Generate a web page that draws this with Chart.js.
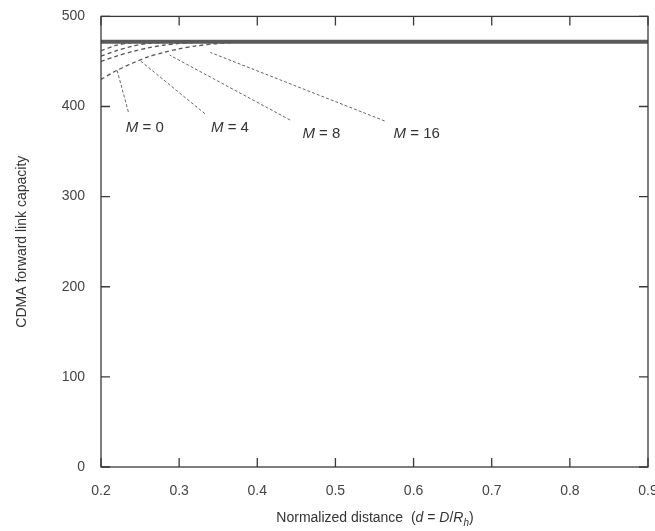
<!DOCTYPE html>
<html>
<head>
<meta charset="utf-8">
<script src="https://cdn.jsdelivr.net/npm/chart.js@4/dist/chart.umd.min.js"></script>
<style>
  html, body { margin: 0; padding: 0; background: #fff; }
  #wrap { width: 655px; height: 531px; }
</style>
</head>
<body>
<div id="wrap"><canvas id="capChart" width="655" height="531"></canvas></div>
<script>
/* ====== DATA ====== */
const distances = [0.2, 0.22, 0.24, 0.26, 0.28, 0.30, 0.32, 0.35, 0.4, 0.5, 0.6, 0.7, 0.8, 0.9];
const capLimit  = [472, 472, 472, 472, 472, 472, 472, 472, 472, 472, 472, 472, 472, 472];
const capM0     = [462, 468, 471, 472, 472, 472, 472, 472, 472, 472, 472, 472, 472, 472];
const capM4     = [456, 462, 467, 470, 471, 472, 472, 472, 472, 472, 472, 472, 472, 472];
const capM8     = [450, 456, 461, 465, 468, 470, 471, 472, 472, 472, 472, 472, 472, 472];
const capM16    = [430, 440, 448, 455, 460, 464, 467, 470, 472, 472, 472, 472, 472, 472];

const curveNames = ['M = 0', 'M = 4', 'M = 8', 'M = 16'];
// label anchor (data coords) and pointer ends
const labelD   = [0.256, 0.365, 0.482, 0.604];
const labelV   = [376, 376, 370, 370];
const ptrFromD = [0.235, 0.333, 0.442, 0.563];
const ptrFromV = [394, 392, 385, 384];
const ptrToD   = [0.220, 0.250, 0.288, 0.340];
const ptrToV   = [442, 451, 457, 460];

const xTicks = [0.2, 0.3, 0.4, 0.5, 0.6, 0.7, 0.8, 0.9];
const yTicks = [0, 100, 200, 300, 400, 500];

const INK = '#3a3a3a';
const FONT = 'Liberation Sans, Arial, sans-serif';

function toPts(ys) { return distances.map((d, i) => ({ x: d, y: ys[i] })); }

const curveSets = [capM0, capM4, capM8, capM16].map(ys => ({
  data: toPts(ys),
  borderColor: '#555',
  borderWidth: 1.3,
  borderDash: [4, 3],
  pointRadius: 0,
  tension: 0.3,
  fill: false
}));

const pointerSets = curveNames.map((n, i) => ({
  data: [{ x: ptrFromD[i], y: ptrFromV[i] }, { x: ptrToD[i], y: ptrToV[i] }],
  borderColor: '#666',
  borderWidth: 1,
  borderDash: [3, 2],
  pointRadius: 0,
  fill: false
}));

/* ====== PLUGINS ====== */
// frame around the plot + inward ticks on all four sides
const framePlugin = {
  id: 'frame',
  afterDraw(chart) {
    const { ctx, chartArea: a, scales: { x, y } } = chart;
    ctx.save();
    ctx.strokeStyle = INK;
    ctx.lineWidth = 1.3;
    ctx.strokeRect(a.left, a.top, a.right - a.left, a.bottom - a.top);
    ctx.beginPath();
    xTicks.forEach(t => {
      const px = x.getPixelForValue(t);
      ctx.moveTo(px, a.bottom); ctx.lineTo(px, a.bottom - 9);
      ctx.moveTo(px, a.top); ctx.lineTo(px, a.top + 9);
    });
    yTicks.forEach(t => {
      const py = y.getPixelForValue(t);
      ctx.moveTo(a.left, py); ctx.lineTo(a.left + 9, py);
      ctx.moveTo(a.right, py); ctx.lineTo(a.right - 9, py);
    });
    ctx.stroke();
    ctx.restore();
  }
};

// curve names
const labelPlugin = {
  id: 'curveLabels',
  afterDatasetsDraw(chart) {
    const { ctx, scales: { x, y } } = chart;
    ctx.save();
    ctx.fillStyle = '#333';
    ctx.textBaseline = 'middle';
    curveNames.forEach((n, i) => {
      const px = x.getPixelForValue(labelD[i]);
      const py = y.getPixelForValue(labelV[i]);
      const rest = n.slice(1);
      ctx.font = 'italic 15px ' + FONT;
      const wM = ctx.measureText('M').width;
      ctx.font = '15px ' + FONT;
      const wR = ctx.measureText(rest).width;
      const x0 = px - (wM + wR) / 2;
      ctx.textAlign = 'left';
      ctx.font = 'italic 15px ' + FONT;
      ctx.fillText('M', x0, py);
      ctx.font = '15px ' + FONT;
      ctx.fillText(rest, x0 + wM, py);
    });
    ctx.restore();
  }
};

// x axis title with italic symbols and subscript
const xTitlePlugin = {
  id: 'xTitle',
  afterDraw(chart) {
    const { ctx, chartArea: a } = chart;
    const parts = [
      ['Normalized distance  (', false], ['d', true], [' = ', false],
      ['D', true], ['/', false], ['R', true]
    ];
    ctx.save();
    ctx.fillStyle = '#333';
    ctx.textBaseline = 'alphabetic';
    let w = 0;
    parts.forEach(p => { ctx.font = (p[1] ? 'italic ' : '') + '14px ' + FONT; w += ctx.measureText(p[0]).width; });
    ctx.font = 'italic 10px ' + FONT;
    w += ctx.measureText('h').width;
    ctx.font = '14px ' + FONT;
    w += ctx.measureText(')').width;
    let cx = 375 - w / 2;
    const by = 522;
    parts.forEach(p => {
      ctx.font = (p[1] ? 'italic ' : '') + '14px ' + FONT;
      ctx.fillText(p[0], cx, by);
      cx += ctx.measureText(p[0]).width;
    });
    ctx.font = 'italic 10px ' + FONT;
    ctx.fillText('h', cx, by + 4);
    cx += ctx.measureText('h').width;
    ctx.font = '14px ' + FONT;
    ctx.fillText(')', cx, by);
    ctx.restore();
  }
};

/* ====== CHART ====== */
new Chart(document.getElementById('capChart').getContext('2d'), {
  type: 'line',
  data: {
    datasets: [{
      data: toPts(capLimit),
      borderColor: '#5a5a5a',
      borderWidth: 4,
      pointRadius: 0,
      fill: false
    }].concat(curveSets, pointerSets)
  },
  options: {
    responsive: false,
    animation: false,
    layout: { padding: { top: 16, right: 0, left: 0, bottom: 0 } },
    plugins: { legend: { display: false }, tooltip: { enabled: false } },
    scales: {
      x: {
        type: 'linear',
        min: 0.2, max: 0.9,
        afterFit(s) { s.height = 64; s.paddingRight = 7; s.paddingLeft = 0; },
        afterBuildTicks(s) { s.ticks = xTicks.map(v => ({ value: v })); },
        grid: { display: false },
        border: { display: false },
        ticks: {
          color: '#444', padding: 8,
          font: { family: FONT, size: 14 },
          callback: v => v.toFixed(1)
        }
      },
      y: {
        min: 0, max: 500,
        afterFit(s) { s.width = 101; },
        afterBuildTicks(s) { s.ticks = yTicks.map(v => ({ value: v })); },
        grid: { display: false },
        border: { display: false },
        title: {
          display: true, text: 'CDMA forward link capacity',
          color: '#333', font: { family: FONT, size: 14 }, padding: { top: 14, bottom: 6 }
        },
        ticks: { color: '#444', padding: 8, font: { family: FONT, size: 14 } }
      }
    }
  },
  plugins: [framePlugin, labelPlugin, xTitlePlugin]
});
</script>
</body>
</html>
